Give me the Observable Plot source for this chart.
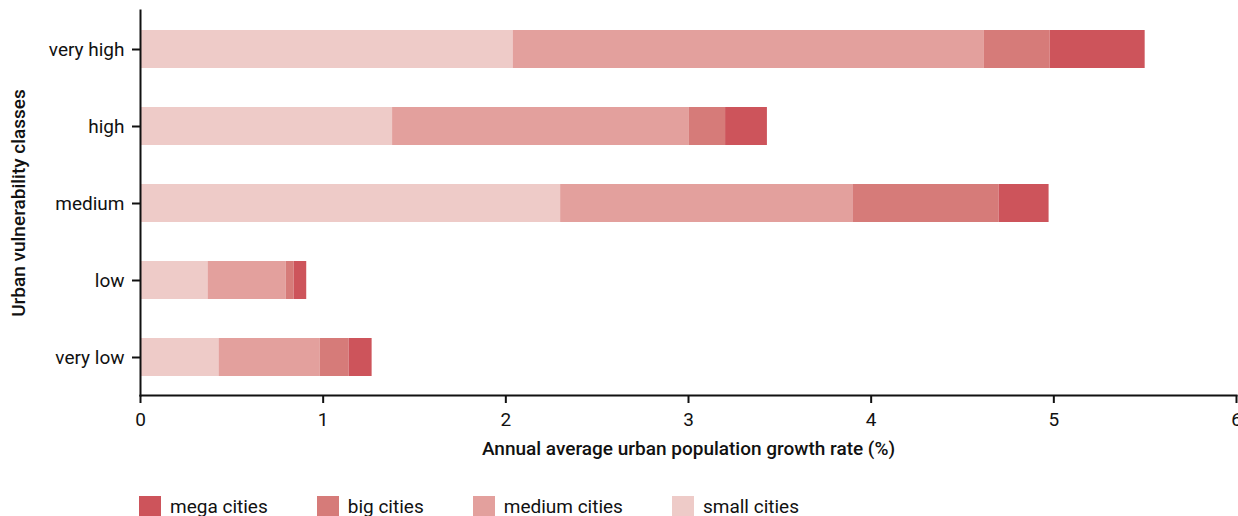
<!DOCTYPE html>
<html>
<head>
<meta charset="utf-8">
<script src="https://cdn.jsdelivr.net/npm/d3@7"></script>
<script src="https://cdn.jsdelivr.net/npm/@observablehq/plot@0.6"></script>
<style>
  html, body { margin: 0; padding: 0; background: #fff; overflow: hidden; }
  body { width: 1238px; height: 516px; font-family: Roboto, sans-serif; }
  #legend { display: flex; align-items: center; margin-left: 139px; margin-top: 25px; font-size: 19px; color: #111; }
  .item { display: flex; align-items: center; margin-right: 49px; }
  .sw { width: 22px; height: 21px; margin-right: 9px; }
</style>
</head>
<body>
<div id="chart"></div>
<div id="legend"></div>
<script>
const classes = ["very high", "high", "medium", "low", "very low"];
const sizes = ["small cities", "medium cities", "big cities", "mega cities"];
const small  = [2.04, 1.38, 2.30, 0.37, 0.43];
const medium = [2.58, 1.625, 1.60, 0.427, 0.553];
const big    = [0.36, 0.198, 0.80, 0.044, 0.159];
const mega   = [0.52, 0.229, 0.274, 0.069, 0.126];
const colors = ["#eecbc8", "#e3a09d", "#d67b79", "#cd545b"];
const xTicks = [0, 1, 2, 3, 4, 5, 6];
const legendOrder = ["mega cities", "big cities", "medium cities", "small cities"];

const series = [small, medium, big, mega];
const rows = [];
sizes.forEach((s, si) => classes.forEach((c, ci) => rows.push({cls: c, size: s, value: series[si][ci]})));

const chart = Plot.plot({
  width: 1238,
  height: 470,
  marginTop: 10,
  marginBottom: 75,
  marginLeft: 140,
  marginRight: 2,
  style: {fontFamily: "Roboto, sans-serif", fontSize: "19px", color: "#111", background: "white", overflow: "visible"},
  x: {domain: [0, 6], ticks: xTicks, label: null},
  y: {domain: classes, paddingInner: 0.51, paddingOuter: 0.245, label: null},
  color: {domain: sizes, range: colors},
  marks: [
    Plot.barX(rows, Plot.stackX({x: "value", y: "cls", fill: "size", order: sizes})),
    Plot.axisX({ticks: xTicks, tickSize: 8, tickPadding: 9, strokeWidth: 2, label: null, tickFormat: d => String(d)}),
    Plot.axisY({tickSize: 8, tickPadding: 8, strokeWidth: 2, label: null}),
    Plot.frame({anchor: "bottom", strokeWidth: 2}),
    Plot.frame({anchor: "left", strokeWidth: 2}),
    Plot.text(["Annual average urban population growth rate (%)"], {frameAnchor: "bottom", dy: 59, fontSize: 19, fontWeight: 500, fill: "#111"}),
    Plot.text(["Urban vulnerability classes"], {frameAnchor: "left", dx: -122, rotate: -90, textAnchor: "middle", fontSize: 19, fontWeight: 500, fill: "#111"})
  ]
});
document.getElementById("chart").appendChild(chart);

const legend = document.getElementById("legend");
legendOrder.forEach(name => {
  const item = document.createElement("div");
  item.className = "item";
  const sw = document.createElement("div");
  sw.className = "sw";
  sw.style.background = colors[sizes.indexOf(name)];
  const t = document.createElement("span");
  t.textContent = name;
  item.appendChild(sw);
  item.appendChild(t);
  legend.appendChild(item);
});
</script>
</body>
</html>
